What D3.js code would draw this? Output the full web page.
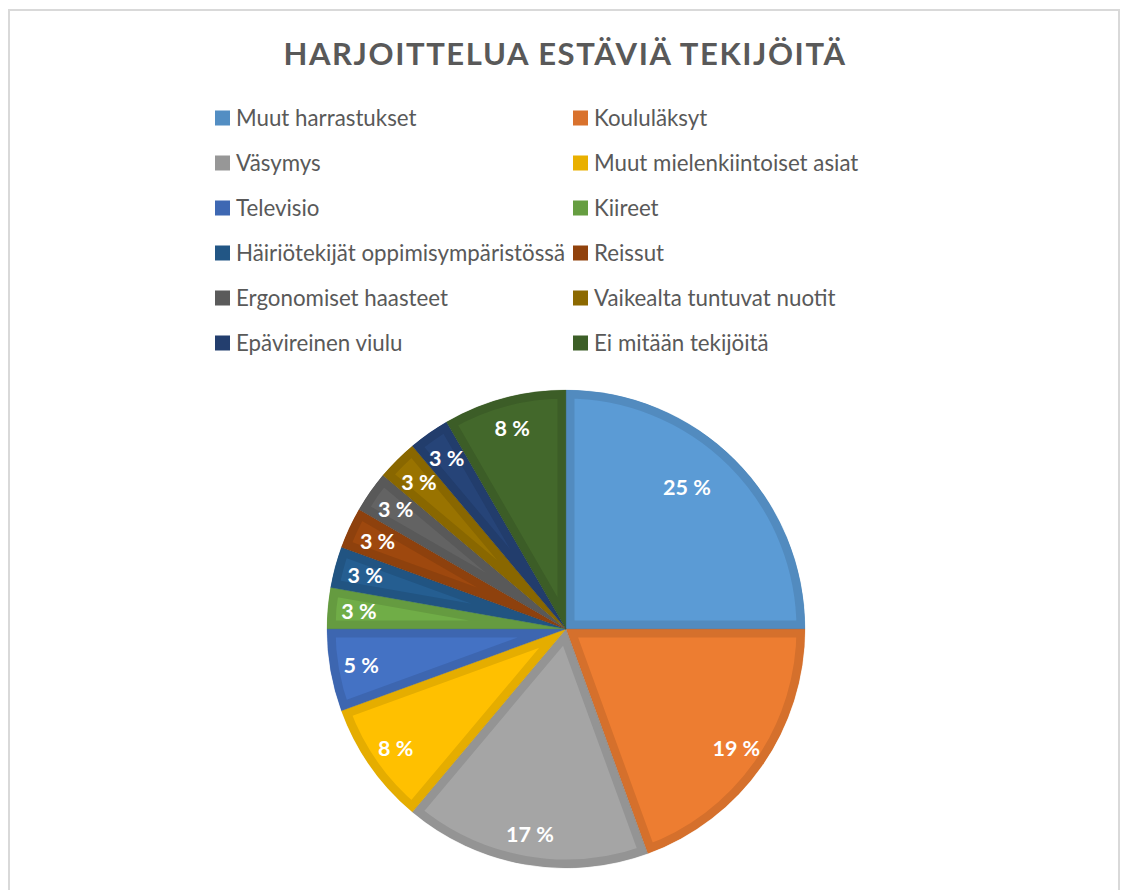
<!DOCTYPE html>
<html>
<head>
<meta charset="utf-8">
<script src="https://cdn.jsdelivr.net/npm/d3@7"></script>
<style>
  body { margin: 0; background: #fff; }
  text { font-family: Lato, "Noto Sans", sans-serif; }
</style>
</head>
<body>
<div id="chart"></div>
<script>
const categories = [
  "Muut harrastukset", "Koululäksyt", "Väsymys", "Muut mielenkiintoiset asiat",
  "Televisio", "Kiireet", "Häiriötekijät oppimisympäristössä", "Reissut",
  "Ergonomiset haasteet", "Vaikealta tuntuvat nuotit", "Epävireinen viulu", "Ei mitään tekijöitä"
]
// shares
const values = [9, 7, 6, 3, 2, 1, 1, 1, 1, 1, 1, 3]
const valueLabels = ["25 %", "19 %", "17 %", "8 %", "5 %", "3 %", "3 %", "3 %", "3 %", "3 %", "3 %", "8 %"]
const colors = [
  "#5B9BD5", "#ED7D31", "#A5A5A5", "#FFC000", "#4472C4", "#70AD47",
  "#255E91", "#9E480E", "#636363", "#997300", "#264478", "#43682B"
]

const W = 1122, H = 890
const cx = 566, cy = 629, r = 239

const svg = d3.select("#chart").append("svg")
  .attr("width", W).attr("height", H)

// chart frame
svg.append("rect")
  .attr("x", 9).attr("y", 10)
  .attr("width", 1110).attr("height", H)
  .attr("fill", "#fff")
  .attr("stroke", "#d9d9d9").attr("stroke-width", 2)

// title
svg.append("text")
  .attr("x", 565).attr("y", 65)
  .attr("text-anchor", "middle")
  .attr("fill", "#595959")
  .attr("font-size", 31).attr("font-weight", 700)
  .attr("letter-spacing", 1.6)
  .text("HARJOITTELUA ESTÄVIÄ TEKIJÖITÄ")

// legend, two columns
const legend = svg.append("g")
const item = legend.selectAll("g")
  .data(categories)
  .enter().append("g")
  .attr("transform", (d, i) => `translate(${i % 2 ? 573 : 215},${118 + Math.floor(i / 2) * 45})`)
item.append("rect")
  .attr("x", 0).attr("y", -7.5)
  .attr("width", 15).attr("height", 15)
  .attr("fill", (d, i) => d3.color(colors[i]).darker(0.25))
item.append("text")
  .attr("x", 21).attr("y", 8)
  .attr("fill", "#595959")
  .attr("font-size", 22.3)
  .text(d => d)

// pie
const pie = d3.pie().sort(null).value(d => d)
const arcs = pie(values)
const arc = d3.arc().innerRadius(0).outerRadius(r)

const g = svg.append("g").attr("transform", `translate(${cx},${cy})`)
const defs = svg.append("defs")

defs.selectAll("clipPath")
  .data(arcs)
  .enter().append("clipPath")
  .attr("id", (d, i) => `slice_${i}`)
  .append("path")
  .attr("d", arc)

// fill plus an inner border in a darker shade (clipped stroke)
g.selectAll("path.slice")
  .data(arcs)
  .enter().append("path")
  .attr("class", "slice")
  .attr("d", arc)
  .attr("fill", (d, i) => colors[i])
  .attr("stroke", (d, i) => d3.color(colors[i]).darker(0.3))
  .attr("stroke-width", 17)
  .attr("stroke-linejoin", "miter")
  .attr("clip-path", (d, i) => `url(#slice_${i})`)

// thin separator
g.selectAll("path.edge")
  .data(arcs)
  .enter().append("path")
  .attr("class", "edge")
  .attr("d", arc)
  .attr("fill", "none")
  .attr("stroke", (d, i) => d3.color(colors[i]).darker(0.5))
  .attr("stroke-opacity", 0.4)
  .attr("stroke-width", 0.6)

const labelArc = d3.arc().innerRadius(r * 0.87).outerRadius(r * 0.87)
const bigArc = d3.arc().innerRadius(r * 0.78).outerRadius(r * 0.78)

g.selectAll("text.lbl")
  .data(arcs)
  .enter().append("text")
  .attr("class", "lbl")
  .attr("transform", d => {
    // the biggest slice keeps its label nearer the middle
    const big = (d.endAngle - d.startAngle) >= Math.PI / 2
    const p = big ? bigArc.centroid({startAngle: d.startAngle, endAngle: d.endAngle - 0.16})
                  : labelArc.centroid(d)
    return `translate(${p[0]},${p[1]})`
  })
  .attr("text-anchor", "middle")
  .attr("dy", "0.36em")
  .attr("fill", "#fff")
  .attr("font-size", 21.5).attr("font-weight", 700)
  .text((d, i) => valueLabels[i])
</script>
</body>
</html>
